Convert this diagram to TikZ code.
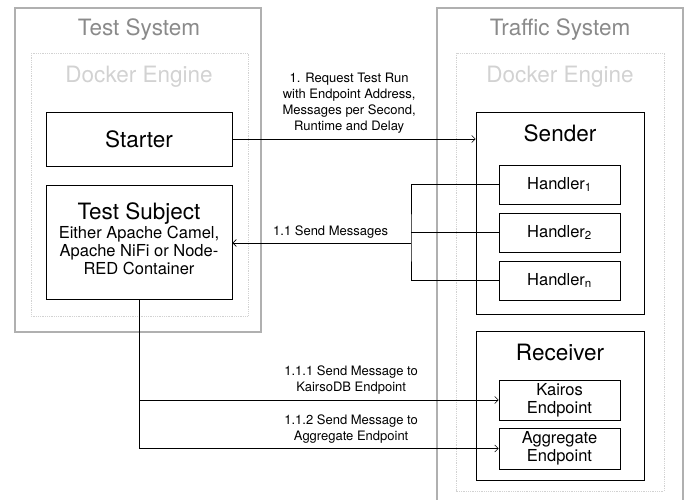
\documentclass[tikz,border=0pt]{standalone}
\usepackage{fontspec}
\setmainfont{TeX Gyre Heros}
\usetikzlibrary{arrows.meta}

\definecolor{sysgray}{HTML}{B0B0B0}
\definecolor{titlegray}{HTML}{8A8A8A}
\definecolor{enginegray}{HTML}{D2D2D2}

\tikzset{
    system/.style={draw=sysgray, line width=1.2pt},
    engine/.style={draw=enginegray, densely dotted, line width=0.8pt},
    systitle/.style={text=titlegray, font=\fontsize{22.5}{26}\selectfont},
    enginetitle/.style={text=enginegray, font=\fontsize{22.5}{26}\selectfont},
    box/.style={draw, line width=0.8pt, inner sep=0pt},
    boxtitle/.style={font=\fontsize{22.5}{26}\selectfont},
    small/.style={font=\fontsize{16.5}{19}\selectfont, align=center},
    msg/.style={font=\fontsize{13}{16}\selectfont, align=center, inner sep=1pt},
    arrow/.style={-{Straight Barb[length=3.5pt,width=7pt]}, line width=0.6pt}
}

\begin{document}
\begin{tikzpicture}[x=1pt, y=-1pt]
        \useasboundingbox (0,0) rectangle (690,500);

        % systems and docker engines
        \draw[system] (15,8) rectangle (261,332);
        \draw[system] (437,8) rectangle (683,520);
        \draw[engine] (31,53) rectangle (248,316);
        \draw[engine] (456,53) rectangle (664,491);

        \node[systitle] at (139,30) {Test System};
        \node[systitle] at (560,30) {Traffic System};
        \node[enginetitle] at (139,77) {Docker Engine};
        \node[enginetitle] at (560,77) {Docker Engine};

        % test system
        \node[box, boxtitle, minimum width=186pt, minimum height=54pt] (starter) at (139,139) {Starter};
        \node[box, minimum width=186pt, minimum height=114pt] (subject) at (139,242) {};
        \node[boxtitle] at (139,214) {Test Subject};
        \node[small, font=\fontsize{16.5}{18}\selectfont] at (139,250) {Either Apache Camel,\\Apache NiFi or Node-\\RED Container};

        % traffic system
        \node[box, minimum width=168pt, minimum height=202pt] (sender) at (560,213) {};
        \node[boxtitle] at (560,133) {Sender};
        \node[box, small, minimum width=121pt, minimum height=39pt] (h1) at (559.5,184.5) {Handler\textsubscript{1}};
        \node[box, small, minimum width=121pt, minimum height=39pt] (h2) at (559.5,232.5) {Handler\textsubscript{2}};
        \node[box, small, minimum width=121pt, minimum height=39pt] (hn) at (559.5,280.5) {Handler\textsubscript{n}};

        \node[box, minimum width=168pt, minimum height=149pt] (receiver) at (560,405.5) {};
        \node[boxtitle] at (560,352) {Receiver};
        \node[box, small, minimum width=121pt, minimum height=40pt] (kairos) at (559.5,400) {Kairos\\[-1pt]Endpoint};
        \node[box, small, minimum width=121pt, minimum height=41pt] (aggregate) at (559.5,448.5) {Aggregate\\[-1pt]Endpoint};

        % messages
        \draw[arrow] (starter.east) -- (starter.east -| sender.west)
            node[msg, pos=0.48, above=4pt] {1. Request Test Run\\with Endpoint Address,\\Messages per Second,\\Runtime and Delay};

        \coordinate (bus) at (411,243);
        \draw[line width=0.6pt] (h1.west) -| (bus) |- (hn.west);
        \draw[line width=0.6pt] (h2.west) -- (h2.west -| bus);
        \draw[arrow] (bus) -- (bus -| subject.east)
            node[msg, pos=0.45, above=3pt] {1.1 Send Messages};

        \draw[arrow] (subject.south) |- (kairos.west)
            node[msg, pos=0.795, above=4pt] {1.1.1 Send Message to\\KairsoDB Endpoint};
        \draw[arrow] (subject.south) |- (aggregate.west)
            node[msg, pos=0.795, above=4pt] {1.1.2 Send Message to\\Aggregate Endpoint};
    \end{tikzpicture}
\end{document}
